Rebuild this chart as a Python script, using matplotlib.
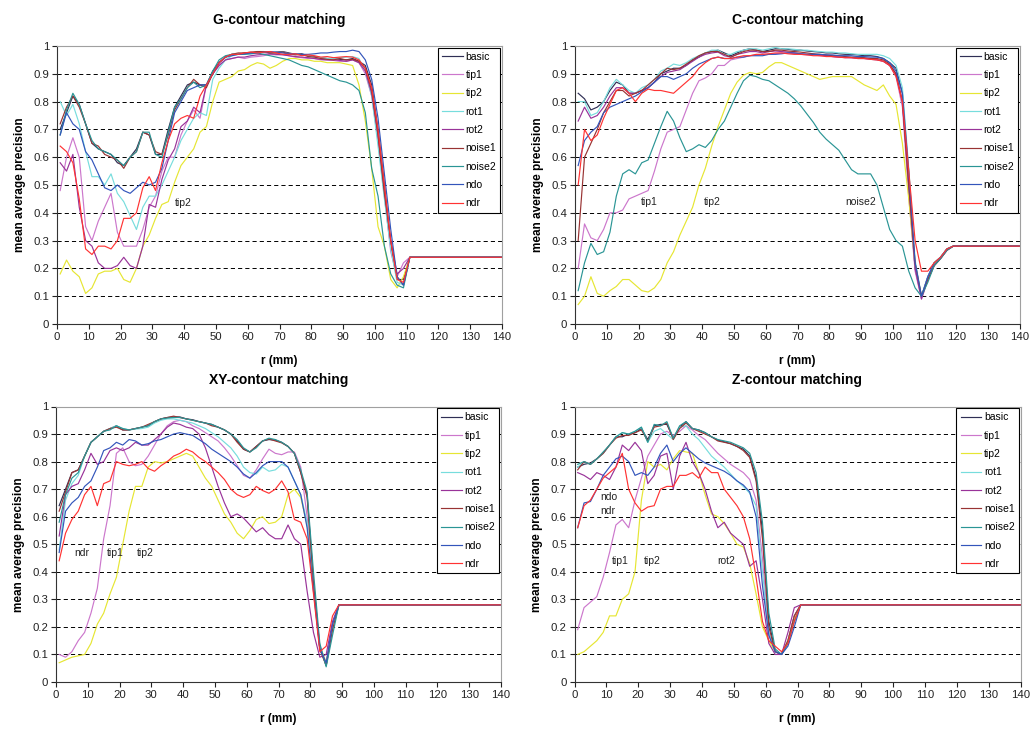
import numpy as np
import matplotlib
matplotlib.use("Agg")
import matplotlib.pyplot as plt

plt.rcParams['font.family'] = ['Liberation Sans', 'DejaVu Sans']
plt.rcParams['lines.scale_dashes'] = False

SERIES = ["basic", "tip1", "tip2", "rot1", "rot2", "noise1", "noise2", "ndo", "ndr"]
COLORS = ["#2f2f55", "#cc77cc", "#e6e633", "#77dddd", "#993399",
          "#993333", "#2a9595", "#3355bb", "#ff3333"]

R_STEP = 2.0
R_MAX = 140
X_TICKS = list(range(0, 141, 10))
Y_TICKS = [0, 0.1, 0.2, 0.3, 0.4, 0.5, 0.6, 0.7, 0.8, 0.9, 1]

# ---------------- G-contour matching (r = 1, 3, ..., 111 mm) ----------------
G_R0 = 1
G_PLATEAU = 0.24
G_BASIC = [0.70, 0.76, 0.82, 0.79, 0.72, 0.65, 0.63, 0.62, 0.61, 0.58,
           0.57, 0.60, 0.63, 0.69, 0.68, 0.61, 0.61, 0.70, 0.78, 0.82,
           0.86, 0.87, 0.86, 0.86, 0.91, 0.94, 0.96, 0.97, 0.97, 0.975,
           0.975, 0.978, 0.98, 0.975, 0.978, 0.98, 0.975, 0.97, 0.972, 0.965,
           0.962, 0.958, 0.955, 0.955, 0.952, 0.95, 0.955, 0.945, 0.93, 0.86,
           0.70, 0.50, 0.28, 0.16, 0.16, 0.24]
G_TIP1 = [0.48, 0.60, 0.67, 0.60, 0.35, 0.30, 0.37, 0.42, 0.47, 0.33,
          0.28, 0.28, 0.28, 0.34, 0.42, 0.46, 0.55, 0.60, 0.60, 0.68,
          0.73, 0.77, 0.74, 0.86, 0.90, 0.93, 0.95, 0.955, 0.96, 0.955,
          0.96, 0.962, 0.965, 0.97, 0.968, 0.97, 0.965, 0.96, 0.958, 0.955,
          0.955, 0.95, 0.95, 0.948, 0.945, 0.945, 0.95, 0.94, 0.90, 0.82,
          0.66, 0.46, 0.26, 0.17, 0.22, 0.24]
G_TIP2 = [0.18, 0.23, 0.19, 0.17, 0.11, 0.13, 0.18, 0.19, 0.19, 0.20,
          0.16, 0.15, 0.20, 0.28, 0.32, 0.38, 0.43, 0.44, 0.51, 0.57,
          0.60, 0.63, 0.69, 0.71, 0.80, 0.87, 0.88, 0.89, 0.91, 0.915,
          0.93, 0.94, 0.935, 0.92, 0.93, 0.945, 0.955, 0.955, 0.95, 0.95,
          0.945, 0.945, 0.94, 0.94, 0.94, 0.935, 0.93, 0.86, 0.73, 0.56,
          0.35, 0.28, 0.16, 0.13, 0.17, 0.24]
G_ROT1 = [0.80, 0.75, 0.79, 0.72, 0.62, 0.53, 0.53, 0.50, 0.54, 0.47,
          0.44, 0.39, 0.34, 0.42, 0.46, 0.46, 0.50, 0.55, 0.60, 0.66,
          0.70, 0.74, 0.76, 0.75, 0.88, 0.92, 0.95, 0.965, 0.97, 0.97,
          0.972, 0.975, 0.978, 0.975, 0.975, 0.978, 0.972, 0.97, 0.968, 0.965,
          0.96, 0.958, 0.955, 0.955, 0.958, 0.96, 0.962, 0.955, 0.91, 0.82,
          0.64, 0.45, 0.27, 0.15, 0.14, 0.24]
G_ROT2 = [0.58, 0.55, 0.61, 0.42, 0.30, 0.28, 0.22, 0.20, 0.20, 0.21,
          0.24, 0.21, 0.20, 0.28, 0.43, 0.42, 0.52, 0.59, 0.63, 0.71,
          0.73, 0.78, 0.76, 0.86, 0.90, 0.93, 0.95, 0.955, 0.96, 0.96,
          0.965, 0.968, 0.97, 0.972, 0.97, 0.968, 0.965, 0.962, 0.96, 0.958,
          0.955, 0.952, 0.95, 0.95, 0.948, 0.945, 0.95, 0.94, 0.91, 0.83,
          0.68, 0.48, 0.30, 0.18, 0.20, 0.24]
G_NOISE1 = [0.72, 0.78, 0.82, 0.78, 0.72, 0.65, 0.64, 0.61, 0.60, 0.59,
            0.56, 0.60, 0.62, 0.69, 0.68, 0.62, 0.61, 0.68, 0.77, 0.81,
            0.85, 0.88, 0.86, 0.85, 0.90, 0.94, 0.96, 0.97, 0.975, 0.975,
            0.978, 0.98, 0.98, 0.975, 0.975, 0.978, 0.972, 0.968, 0.97, 0.962,
            0.96, 0.955, 0.952, 0.95, 0.955, 0.95, 0.952, 0.945, 0.92, 0.84,
            0.68, 0.47, 0.30, 0.17, 0.14, 0.24]
G_NOISE2 = [0.68, 0.77, 0.83, 0.79, 0.72, 0.66, 0.63, 0.62, 0.61, 0.59,
            0.57, 0.60, 0.62, 0.69, 0.69, 0.61, 0.60, 0.69, 0.78, 0.81,
            0.85, 0.87, 0.85, 0.86, 0.91, 0.95, 0.965, 0.97, 0.97, 0.97,
            0.972, 0.975, 0.97, 0.965, 0.96, 0.955, 0.95, 0.94, 0.93, 0.925,
            0.915, 0.905, 0.895, 0.885, 0.875, 0.87, 0.86, 0.84, 0.76, 0.56,
            0.46, 0.28, 0.18, 0.14, 0.13, 0.24]
G_NDO = [0.68, 0.76, 0.72, 0.70, 0.62, 0.59, 0.54, 0.49, 0.48, 0.50,
         0.48, 0.47, 0.49, 0.51, 0.50, 0.51, 0.56, 0.66, 0.76, 0.80,
         0.84, 0.85, 0.86, 0.86, 0.90, 0.94, 0.96, 0.965, 0.97, 0.972,
         0.975, 0.975, 0.978, 0.98, 0.978, 0.975, 0.972, 0.972, 0.97, 0.97,
         0.972, 0.975, 0.975, 0.978, 0.98, 0.98, 0.985, 0.98, 0.95, 0.88,
         0.74, 0.54, 0.34, 0.17, 0.14, 0.24]
G_NDR = [0.64, 0.62, 0.58, 0.45, 0.27, 0.25, 0.28, 0.28, 0.27, 0.30,
         0.38, 0.38, 0.40, 0.49, 0.53, 0.48, 0.58, 0.66, 0.72, 0.74,
         0.75, 0.74, 0.82, 0.86, 0.90, 0.94, 0.96, 0.97, 0.97, 0.975,
         0.978, 0.975, 0.978, 0.98, 0.975, 0.97, 0.97, 0.972, 0.965, 0.968,
         0.965, 0.96, 0.962, 0.958, 0.96, 0.962, 0.96, 0.95, 0.92, 0.85,
         0.70, 0.50, 0.30, 0.16, 0.15, 0.24]

# ---------------- C-contour matching (r = 1, 3, ..., 119 mm) ----------------
C_R0 = 1
C_PLATEAU = 0.28
C_BASIC = [0.83, 0.81, 0.77, 0.78, 0.80, 0.84, 0.87, 0.86, 0.83, 0.83,
           0.84, 0.85, 0.87, 0.90, 0.91, 0.92, 0.92, 0.93, 0.95, 0.96,
           0.975, 0.98, 0.985, 0.975, 0.965, 0.975, 0.985, 0.99, 0.985, 0.98,
           0.985, 0.99, 0.99, 0.988, 0.985, 0.985, 0.982, 0.98, 0.978, 0.975,
           0.975, 0.972, 0.97, 0.97, 0.968, 0.965, 0.965, 0.962, 0.955, 0.94,
           0.92, 0.83, 0.48, 0.20, 0.10, 0.17, 0.22, 0.24, 0.27, 0.28]
C_TIP1 = [0.20, 0.36, 0.31, 0.30, 0.34, 0.40, 0.40, 0.41, 0.45, 0.46,
          0.47, 0.48, 0.55, 0.63, 0.69, 0.70, 0.71, 0.77, 0.83, 0.875,
          0.885, 0.90, 0.93, 0.93, 0.95, 0.955, 0.96, 0.965, 0.968, 0.97,
          0.97, 0.972, 0.975, 0.975, 0.972, 0.97, 0.968, 0.968, 0.965, 0.965,
          0.962, 0.96, 0.96, 0.958, 0.958, 0.955, 0.955, 0.952, 0.945, 0.93,
          0.89, 0.78, 0.46, 0.19, 0.09, 0.16, 0.21, 0.24, 0.27, 0.28]
C_TIP2 = [0.07, 0.10, 0.17, 0.11, 0.10, 0.12, 0.135, 0.16, 0.16, 0.14,
          0.12, 0.115, 0.13, 0.16, 0.22, 0.26, 0.32, 0.37, 0.42, 0.50,
          0.56, 0.64, 0.71, 0.77, 0.83, 0.87, 0.895, 0.905, 0.90, 0.905,
          0.925, 0.94, 0.94, 0.93, 0.92, 0.91, 0.90, 0.89, 0.88, 0.885,
          0.89, 0.89, 0.89, 0.89, 0.875, 0.86, 0.85, 0.84, 0.86, 0.82,
          0.79, 0.65, 0.45, 0.21, 0.10, 0.16, 0.22, 0.24, 0.27, 0.28]
C_ROT1 = [0.80, 0.80, 0.75, 0.76, 0.80, 0.85, 0.88, 0.86, 0.84, 0.83,
          0.85, 0.86, 0.88, 0.91, 0.92, 0.935, 0.93, 0.94, 0.955, 0.965,
          0.975, 0.985, 0.985, 0.97, 0.97, 0.98, 0.985, 0.99, 0.99, 0.985,
          0.99, 0.995, 0.99, 0.99, 0.988, 0.985, 0.985, 0.982, 0.98, 0.978,
          0.978, 0.975, 0.975, 0.972, 0.97, 0.97, 0.97, 0.97, 0.965, 0.955,
          0.93, 0.85, 0.56, 0.23, 0.10, 0.17, 0.22, 0.24, 0.27, 0.28]
C_ROT2 = [0.73, 0.78, 0.74, 0.75, 0.78, 0.82, 0.85, 0.85, 0.83, 0.83,
          0.84, 0.85, 0.87, 0.89, 0.905, 0.91, 0.915, 0.93, 0.945, 0.96,
          0.97, 0.975, 0.978, 0.965, 0.96, 0.97, 0.975, 0.98, 0.98, 0.975,
          0.98, 0.982, 0.98, 0.978, 0.975, 0.972, 0.97, 0.97, 0.968, 0.965,
          0.962, 0.96, 0.958, 0.958, 0.955, 0.955, 0.952, 0.95, 0.945, 0.93,
          0.90, 0.80, 0.50, 0.20, 0.09, 0.16, 0.21, 0.235, 0.265, 0.28]
C_NOISE1 = [0.30, 0.60, 0.65, 0.70, 0.76, 0.80, 0.84, 0.84, 0.82, 0.83,
            0.84, 0.86, 0.88, 0.90, 0.92, 0.915, 0.92, 0.935, 0.95, 0.965,
            0.975, 0.98, 0.98, 0.97, 0.96, 0.97, 0.98, 0.985, 0.985, 0.98,
            0.98, 0.985, 0.985, 0.982, 0.98, 0.978, 0.975, 0.972, 0.97, 0.968,
            0.965, 0.965, 0.962, 0.96, 0.96, 0.958, 0.955, 0.955, 0.95, 0.935,
            0.90, 0.80, 0.50, 0.22, 0.10, 0.16, 0.21, 0.235, 0.265, 0.28]
C_NOISE2 = [0.12, 0.22, 0.29, 0.25, 0.26, 0.33, 0.46, 0.54, 0.555, 0.54,
            0.58, 0.59, 0.65, 0.71, 0.765, 0.73, 0.67, 0.62, 0.63, 0.645,
            0.635, 0.66, 0.70, 0.73, 0.78, 0.83, 0.875, 0.895, 0.89, 0.88,
            0.875, 0.86, 0.845, 0.83, 0.81, 0.785, 0.755, 0.725, 0.69, 0.665,
            0.645, 0.625, 0.59, 0.555, 0.54, 0.54, 0.54, 0.50, 0.42, 0.34,
            0.30, 0.28, 0.19, 0.13, 0.10, 0.15, 0.21, 0.235, 0.265, 0.28]
C_NDO = [0.57, 0.66, 0.69, 0.71, 0.76, 0.78, 0.79, 0.80, 0.81, 0.82,
         0.835, 0.85, 0.87, 0.89, 0.89, 0.88, 0.89, 0.90, 0.92, 0.935,
         0.945, 0.955, 0.96, 0.955, 0.955, 0.96, 0.96, 0.965, 0.965, 0.965,
         0.97, 0.97, 0.972, 0.975, 0.975, 0.972, 0.97, 0.97, 0.97, 0.968,
         0.968, 0.965, 0.965, 0.965, 0.962, 0.962, 0.96, 0.96, 0.955, 0.94,
         0.91, 0.83, 0.55, 0.22, 0.10, 0.17, 0.22, 0.24, 0.27, 0.28]
C_NDR = [0.50, 0.70, 0.66, 0.68, 0.74, 0.79, 0.84, 0.85, 0.83, 0.80,
         0.83, 0.845, 0.84, 0.84, 0.835, 0.83, 0.85, 0.87, 0.89, 0.92,
         0.94, 0.955, 0.96, 0.955, 0.955, 0.96, 0.965, 0.965, 0.97, 0.97,
         0.972, 0.975, 0.975, 0.972, 0.97, 0.97, 0.968, 0.965, 0.965, 0.962,
         0.962, 0.96, 0.958, 0.958, 0.955, 0.955, 0.952, 0.95, 0.945, 0.93,
         0.89, 0.80, 0.55, 0.30, 0.19, 0.19, 0.22, 0.24, 0.27, 0.28]

# ---------------- XY-contour matching (r = 1, 3, ..., 89 mm) ----------------
XY_R0 = 1
XY_PLATEAU = 0.28
XY_BASIC = [0.64, 0.70, 0.76, 0.77, 0.82, 0.87, 0.89, 0.91, 0.92, 0.93,
            0.915, 0.915, 0.92, 0.925, 0.93, 0.945, 0.955, 0.96, 0.962, 0.962,
            0.955, 0.952, 0.945, 0.94, 0.935, 0.925, 0.915, 0.90, 0.875, 0.845,
            0.835, 0.855, 0.875, 0.88, 0.878, 0.87, 0.855, 0.83, 0.76, 0.68,
            0.37, 0.12, 0.06, 0.20, 0.28]
XY_TIP1 = [0.10, 0.09, 0.11, 0.15, 0.18, 0.25, 0.34, 0.52, 0.64, 0.83,
           0.85, 0.80, 0.785, 0.79, 0.82, 0.86, 0.90, 0.93, 0.945, 0.95,
           0.945, 0.93, 0.92, 0.905, 0.89, 0.875, 0.85, 0.82, 0.785, 0.75,
           0.74, 0.77, 0.81, 0.845, 0.83, 0.825, 0.835, 0.835, 0.78, 0.60,
           0.36, 0.13, 0.07, 0.20, 0.28]
XY_TIP2 = [0.07, 0.08, 0.09, 0.095, 0.10, 0.14, 0.21, 0.25, 0.32, 0.38,
           0.50, 0.62, 0.71, 0.71, 0.78, 0.80, 0.795, 0.80, 0.81, 0.82,
           0.83, 0.82, 0.78, 0.74, 0.71, 0.66, 0.61, 0.58, 0.54, 0.52,
           0.55, 0.59, 0.60, 0.575, 0.58, 0.60, 0.68, 0.70, 0.67, 0.57,
           0.34, 0.13, 0.07, 0.19, 0.28]
XY_ROT1 = [0.48, 0.66, 0.72, 0.75, 0.82, 0.87, 0.89, 0.91, 0.92, 0.93,
           0.92, 0.915, 0.918, 0.92, 0.925, 0.94, 0.95, 0.955, 0.955, 0.95,
           0.945, 0.94, 0.93, 0.92, 0.905, 0.89, 0.87, 0.85, 0.82, 0.78,
           0.76, 0.755, 0.78, 0.765, 0.77, 0.79, 0.78, 0.73, 0.68, 0.58,
           0.35, 0.13, 0.06, 0.19, 0.28]
XY_ROT2 = [0.53, 0.68, 0.71, 0.72, 0.77, 0.83, 0.79, 0.80, 0.84, 0.85,
           0.84, 0.85, 0.87, 0.86, 0.86, 0.88, 0.90, 0.925, 0.94, 0.935,
           0.925, 0.92, 0.90, 0.85, 0.78, 0.71, 0.65, 0.60, 0.61, 0.595,
           0.57, 0.545, 0.56, 0.535, 0.52, 0.52, 0.57, 0.52, 0.50, 0.33,
           0.18, 0.09, 0.10, 0.22, 0.28]
XY_NOISE1 = [0.62, 0.69, 0.76, 0.77, 0.82, 0.87, 0.89, 0.91, 0.92, 0.925,
             0.915, 0.915, 0.92, 0.925, 0.935, 0.945, 0.955, 0.96, 0.965, 0.96,
             0.955, 0.95, 0.945, 0.94, 0.93, 0.925, 0.915, 0.90, 0.87, 0.845,
             0.835, 0.855, 0.875, 0.882, 0.875, 0.868, 0.855, 0.83, 0.76, 0.67,
             0.36, 0.12, 0.06, 0.19, 0.28]
XY_NOISE2 = [0.58, 0.68, 0.74, 0.76, 0.82, 0.87, 0.89, 0.91, 0.915, 0.93,
             0.92, 0.915, 0.92, 0.925, 0.93, 0.945, 0.955, 0.958, 0.96, 0.96,
             0.955, 0.95, 0.945, 0.94, 0.935, 0.925, 0.915, 0.90, 0.88, 0.85,
             0.835, 0.85, 0.875, 0.885, 0.88, 0.87, 0.855, 0.83, 0.77, 0.69,
             0.40, 0.14, 0.055, 0.17, 0.28]
XY_NDO = [0.47, 0.62, 0.65, 0.67, 0.71, 0.73, 0.78, 0.84, 0.85, 0.87,
          0.86, 0.88, 0.875, 0.86, 0.865, 0.875, 0.88, 0.89, 0.90, 0.905,
          0.90, 0.895, 0.88, 0.865, 0.845, 0.83, 0.815, 0.80, 0.78, 0.755,
          0.74, 0.76, 0.785, 0.80, 0.80, 0.80, 0.78, 0.73, 0.68, 0.56,
          0.33, 0.12, 0.07, 0.21, 0.28]
XY_NDR = [0.44, 0.54, 0.59, 0.62, 0.68, 0.71, 0.64, 0.72, 0.73, 0.80,
          0.79, 0.785, 0.79, 0.80, 0.775, 0.765, 0.785, 0.80, 0.82, 0.83,
          0.845, 0.835, 0.815, 0.80, 0.78, 0.76, 0.735, 0.70, 0.68, 0.67,
          0.68, 0.71, 0.695, 0.685, 0.70, 0.73, 0.69, 0.59, 0.58, 0.52,
          0.32, 0.11, 0.13, 0.24, 0.28]

# ---------------- Z-contour matching (r = 1, 3, ..., 71 mm) ----------------
Z_R0 = 1
Z_PLATEAU = 0.28
Z_BASIC = [0.78, 0.79, 0.795, 0.81, 0.83, 0.86, 0.89, 0.89, 0.90, 0.905,
           0.92, 0.88, 0.93, 0.935, 0.935, 0.885, 0.925, 0.945, 0.92, 0.915,
           0.905, 0.89, 0.878, 0.872, 0.865, 0.855, 0.845, 0.82, 0.74, 0.55,
           0.22, 0.11, 0.10, 0.15, 0.24, 0.28]
Z_TIP1 = [0.19, 0.27, 0.29, 0.31, 0.38, 0.47, 0.57, 0.59, 0.56, 0.66,
          0.74, 0.82, 0.86, 0.90, 0.91, 0.895, 0.91, 0.93, 0.915, 0.895,
          0.88, 0.855, 0.83, 0.81, 0.79, 0.775, 0.76, 0.735, 0.66, 0.45,
          0.17, 0.11, 0.10, 0.15, 0.24, 0.28]
Z_TIP2 = [0.10, 0.11, 0.13, 0.15, 0.18, 0.24, 0.24, 0.30, 0.32, 0.40,
          0.66, 0.80, 0.78, 0.79, 0.77, 0.81, 0.84, 0.835, 0.83, 0.76,
          0.68, 0.61, 0.60, 0.575, 0.54, 0.50, 0.49, 0.43, 0.32, 0.20,
          0.15, 0.11, 0.10, 0.15, 0.23, 0.28]
Z_ROT1 = [0.78, 0.80, 0.79, 0.81, 0.83, 0.86, 0.89, 0.905, 0.90, 0.91,
          0.925, 0.87, 0.91, 0.92, 0.90, 0.88, 0.925, 0.93, 0.90, 0.88,
          0.85, 0.82, 0.80, 0.78, 0.755, 0.73, 0.71, 0.685, 0.64, 0.40,
          0.18, 0.11, 0.10, 0.14, 0.22, 0.28]
Z_ROT2 = [0.76, 0.75, 0.735, 0.76, 0.75, 0.735, 0.78, 0.86, 0.84, 0.87,
          0.84, 0.72, 0.75, 0.82, 0.83, 0.70, 0.82, 0.87, 0.80, 0.76,
          0.70, 0.62, 0.56, 0.58, 0.54, 0.52, 0.50, 0.42, 0.44, 0.30,
          0.14, 0.10, 0.10, 0.18, 0.27, 0.28]
Z_NOISE1 = [0.77, 0.80, 0.79, 0.81, 0.83, 0.86, 0.885, 0.895, 0.895, 0.905,
            0.915, 0.875, 0.925, 0.93, 0.94, 0.88, 0.92, 0.94, 0.92, 0.91,
            0.90, 0.89, 0.875, 0.87, 0.865, 0.855, 0.84, 0.815, 0.73, 0.52,
            0.20, 0.11, 0.10, 0.15, 0.24, 0.28]
Z_NOISE2 = [0.79, 0.80, 0.79, 0.81, 0.835, 0.86, 0.89, 0.905, 0.90, 0.91,
            0.925, 0.87, 0.935, 0.93, 0.945, 0.885, 0.93, 0.945, 0.92, 0.915,
            0.905, 0.89, 0.88, 0.875, 0.87, 0.86, 0.85, 0.83, 0.76, 0.58,
            0.25, 0.12, 0.10, 0.14, 0.22, 0.28]
Z_NDO = [0.56, 0.65, 0.655, 0.70, 0.75, 0.78, 0.81, 0.82, 0.80, 0.75,
         0.76, 0.75, 0.78, 0.83, 0.86, 0.80, 0.83, 0.85, 0.83, 0.81,
         0.795, 0.785, 0.775, 0.765, 0.75, 0.73, 0.715, 0.69, 0.60, 0.35,
         0.17, 0.11, 0.10, 0.13, 0.20, 0.28]
Z_NDR = [0.56, 0.64, 0.66, 0.70, 0.74, 0.76, 0.78, 0.83, 0.70, 0.65,
         0.62, 0.635, 0.64, 0.70, 0.71, 0.71, 0.75, 0.75, 0.76, 0.74,
         0.78, 0.76, 0.76, 0.70, 0.67, 0.64, 0.60, 0.52, 0.38, 0.22,
         0.15, 0.13, 0.11, 0.14, 0.22, 0.28]

# Curve name labels written inside each panel: (text, r, value)
G_NOTES = [("tip2", 37.0, 0.435)]
C_NOTES = [("tip1", 20.7, 0.44), ("tip2", 40.4, 0.44), ("noise2", 85.0, 0.44)]
XY_NOTES = [("ndr", 5.8, 0.47), ("tip1", 15.9, 0.47), ("tip2", 25.5, 0.47)]
Z_NOTES = [("ndo", 8.1, 0.673), ("ndr", 8.1, 0.62), ("tip1", 11.8, 0.44),
           ("tip2", 21.9, 0.44), ("rot2", 44.8, 0.44)]

PANELS = [
    ("G-contour matching", G_R0, G_PLATEAU,
     [G_BASIC, G_TIP1, G_TIP2, G_ROT1, G_ROT2, G_NOISE1, G_NOISE2, G_NDO, G_NDR],
     G_NOTES, [57 / 1032, 1 - 324 / 733, 445 / 1032, 278 / 733]),
    ("C-contour matching", C_R0, C_PLATEAU,
     [C_BASIC, C_TIP1, C_TIP2, C_ROT1, C_ROT2, C_NOISE1, C_NOISE2, C_NDO, C_NDR],
     C_NOTES, [575 / 1032, 1 - 324 / 733, 445 / 1032, 278 / 733]),
    ("XY-contour matching", XY_R0, XY_PLATEAU,
     [XY_BASIC, XY_TIP1, XY_TIP2, XY_ROT1, XY_ROT2, XY_NOISE1, XY_NOISE2, XY_NDO, XY_NDR],
     XY_NOTES, [56 / 1032, 1 - 682 / 733, 445 / 1032, 275.5 / 733]),
    ("Z-contour matching", Z_R0, Z_PLATEAU,
     [Z_BASIC, Z_TIP1, Z_TIP2, Z_ROT1, Z_ROT2, Z_NOISE1, Z_NOISE2, Z_NDO, Z_NDR],
     Z_NOTES, [574.5 / 1032, 1 - 682 / 733, 446 / 1032, 275.5 / 733]),
]

fig = plt.figure(figsize=(10.32, 7.33), dpi=100)

for title, r0, plateau, curves, notes, rect in PANELS:
    ax = fig.add_axes(rect)
    for y in Y_TICKS[1:-1]:
        ax.axhline(y, color="black", lw=0.7, ls=(0, (3, 2.2)), zorder=0)
    for name, color, vals in zip(SERIES, COLORS, curves):
        r = r0 + R_STEP * np.arange(len(vals))
        x = np.append(r, R_MAX)
        y = np.append(vals, plateau)
        ax.plot(x, y, color=color, lw=0.85, label=name)
    for text, rx, ry in notes:
        ax.text(rx, ry, text, fontsize=7.5, ha="left", va="center", color="#222222")

    ax.set_xlim(0, R_MAX)
    ax.set_ylim(0, 1)
    ax.set_xticks(X_TICKS)
    ax.set_yticks(Y_TICKS)
    ax.set_yticklabels(["%g" % v for v in Y_TICKS])
    for side in ("top", "right"):
        ax.spines[side].set_color("#a0a0a0")
        ax.spines[side].set_linewidth(0.8)
    for side in ("left", "bottom"):
        ax.spines[side].set_color("#333333")
        ax.spines[side].set_linewidth(0.8)
    ax.tick_params(direction="out", length=3.5, width=0.8, labelsize=8.2,
                   pad=2, colors="#222222")
    ax.set_title(title, fontsize=10, fontweight="bold", pad=16)
    ax.set_xlabel("r (mm)", fontsize=8.5, fontweight="bold", labelpad=9.5)
    ax.set_ylabel("mean average precision", fontsize=8.5, fontweight="bold", labelpad=5.5)

    leg = ax.legend(loc="upper right", fontsize=7.5, handlelength=2.0,
                    handletextpad=0.25, labelspacing=0.8, borderpad=0.4,
                    borderaxespad=0.15, fancybox=False, framealpha=1)
    leg.get_frame().set_edgecolor("black")
    leg.get_frame().set_linewidth(0.8)

fig.savefig("out.png", dpi=100)
